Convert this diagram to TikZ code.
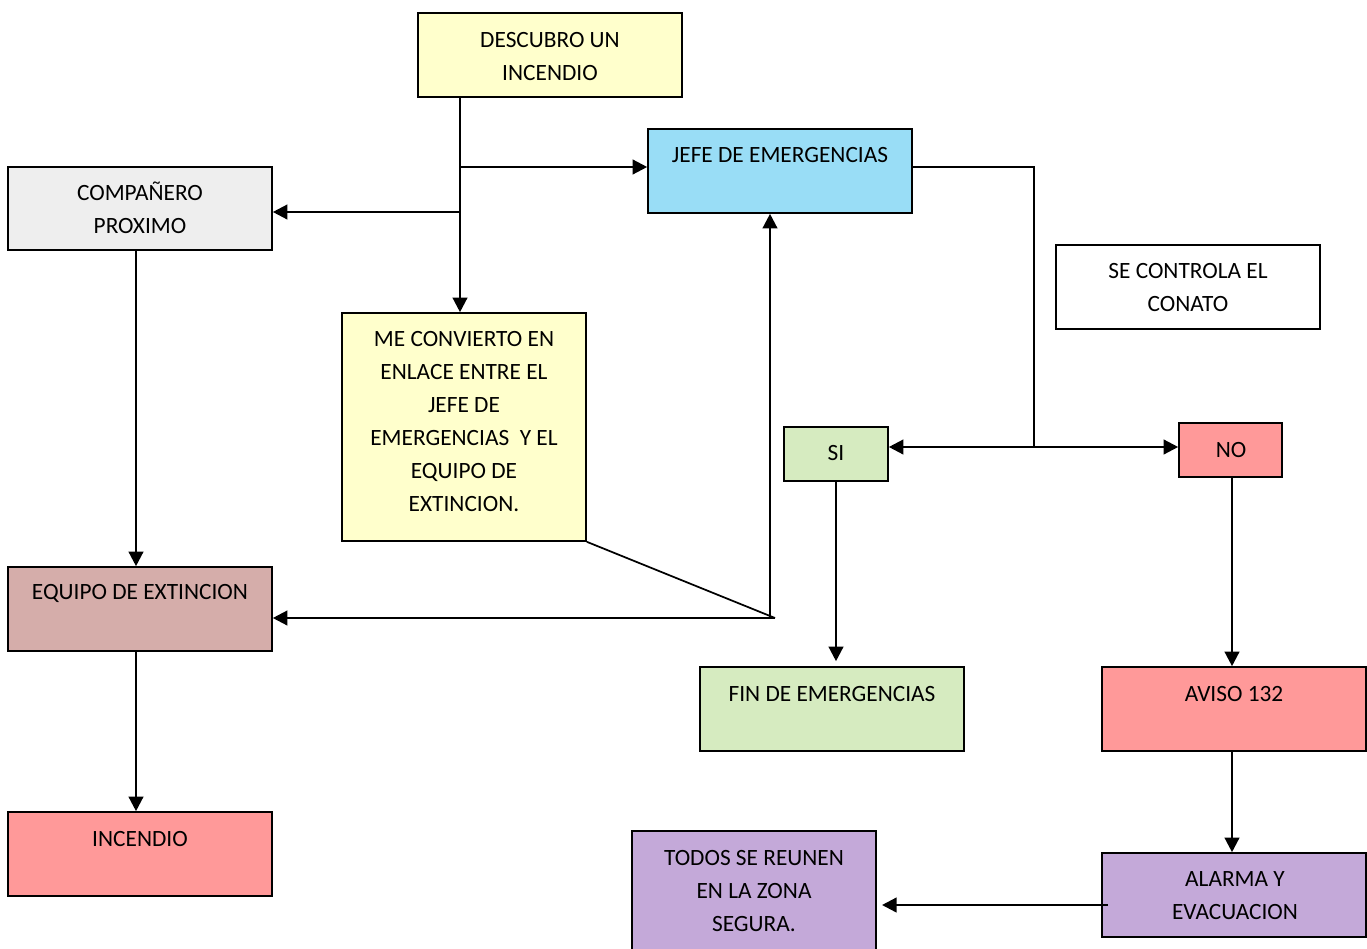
\documentclass[tikz,border=0pt]{standalone}
\usepackage{fontspec}
\setmainfont{Carlito}
\usetikzlibrary{arrows.meta}
\definecolor{cyel}{HTML}{FFFFCC}
\definecolor{cblue}{HTML}{99DDF6}
\definecolor{cgrey}{HTML}{EEEEEE}
\definecolor{cgreen}{HTML}{D6EBC0}
\definecolor{cpink}{HTML}{FF9999}
\definecolor{crose}{HTML}{D5ADAA}
\definecolor{clav}{HTML}{C4A9D9}
\begin{document}
\begin{tikzpicture}[x=0.75pt,y=-0.75pt,
  box/.style={draw=black, line width=1.2pt, inner sep=0pt, minimum width={#1*0.75pt}},
  txt/.style={anchor=north, align=center, inner sep=0pt, font=\fontsize{17.5}{24.75}\selectfont},
  arr/.style={line width=1.8pt, -{Triangle[length=11pt,width=11pt]}},
  conn/.style={line width=1.3pt}]
\useasboundingbox (0,0) rectangle (1367,949);
% boxes
\node[box=264, minimum height=63pt, fill=cyel] (desc) at (550,55) {};
\node[box=264, minimum height=63pt, fill=cblue] (jefe) at (780,171) {};
\node[box=264, minimum height=62.25pt, fill=cgrey] (comp) at (140,208.5) {};
\node[box=264, minimum height=63pt, fill=white] (secon) at (1188,287) {};
\node[box=244, minimum height=171pt, fill=cyel] (conv) at (464,427) {};
\node[box=104, minimum height=40.5pt, fill=cgreen] (si) at (836,454) {};
\node[box=103, minimum height=40.5pt, fill=cpink] (no) at (1230.5,450) {};
\node[box=264, minimum height=63pt, fill=crose] (equipo) at (140,609) {};
\node[box=264, minimum height=63pt, fill=cgreen] (fin) at (832,709) {};
\node[box=264, minimum height=63pt, fill=cpink] (aviso) at (1234,709) {};
\node[box=264, minimum height=63pt, fill=cpink] (incendio) at (140,854) {};
\node[box=244, minimum height=103.5pt, fill=clav] (todos) at (754,900) {};
\node[box=264, minimum height=63pt, fill=clav] (alarma) at (1234,895) {};
% texts
\node[txt] (tdesc) at (550,24.6) {\strut DESCUBRO UN\\INCENDIO};
\node[txt] (tjefe) at (780,139.6) {\strut JEFE DE EMERGENCIAS};
\node[txt] (tcomp) at (140,177.6) {\strut COMPAÑERO\\PROXIMO};
\node[txt] (tsecon) at (1188,255.6) {\strut SE CONTROLA EL\\CONATO};
\node[txt] (tconv) at (464,323.6) {\strut ME CONVIERTO EN\\ENLACE ENTRE EL\\JEFE DE\\EMERGENCIAS \ Y EL\\EQUIPO DE\\EXTINCION.};
\node[txt] (tsi) at (836,437.6) {\strut SI};
\node[txt] (tno) at (1231,434.6) {\strut NO};
\node[txt] (tequipo) at (140,576.6) {\strut EQUIPO DE EXTINCION};
\node[txt] (tfin) at (832,678.6) {\strut FIN DE EMERGENCIAS};
\node[txt] (taviso) at (1234,678.6) {\strut AVISO 132};
\node[txt] (tinc) at (140,823.6) {\strut INCENDIO};
\node[txt] (ttodos) at (754,842.6) {\strut TODOS SE REUNEN\\EN LA ZONA\\SEGURA.};
\node[txt] (talarma) at (1235,863.6) {\strut ALARMA Y\\EVACUACION};
% connectors
\coordinate (a) at (460,167);
\coordinate (b) at (460,212);
\coordinate (c) at (136,0);
\coordinate (m) at (775,618);
\coordinate (m2) at (770,618);
\coordinate (r) at (1034,447);
\coordinate (s) at (836,0);
\coordinate (n) at (1232,0);
\coordinate (t1) at (1108,905);
\coordinate (t2) at (882,905);
\draw[arr] (desc.south -| a) -- (conv.north -| a);
\draw[arr] (a) -- (jefe.west |- a);
\draw[arr] (b) -- (comp.east |- b);
\draw[arr] (comp.south -| c) -- (equipo.north -| c);
\draw[arr] (equipo.south -| c) -- (incendio.north -| c);
\draw[conn] (conv.south east) -- (m);
\draw[arr] (m2) -- (jefe.south -| m2);
\draw[arr] (m) -- (equipo.east |- m);
\draw[line width=0.9pt] (jefe.east |- a) -| (r);
\draw[arr] (r) -- (si.east |- r);
\draw[arr] (r) -- (no.west |- r);
\draw[arr] (si.south -| s) -- ([yshift=3.75pt]fin.north -| s);
\draw[arr] (no.south -| n) -- (aviso.north -| n);
\draw[arr] (aviso.south -| n) -- (alarma.north -| n);
\draw[arr] (t1) -- (t2);
\end{tikzpicture}
\end{document}
